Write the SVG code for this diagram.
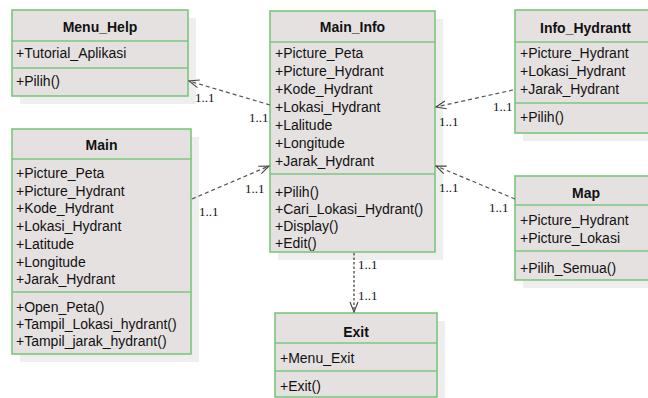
<svg xmlns="http://www.w3.org/2000/svg" width="648" height="398" viewBox="0 0 648 398">
<defs>
<marker id="open" markerWidth="12" markerHeight="10" refX="11" refY="5" orient="auto" markerUnits="userSpaceOnUse">
<path d="M1,1 L11,5 L1,9" fill="none" stroke="#444" stroke-width="1.1"/>
</marker>
</defs>
<style>
.shadow{fill:#eeeeee}
.box{fill:#e6e1e1;stroke:#7cc67c;stroke-width:1.6}
.div{stroke:#7cc67c;stroke-width:1.6}
.title{font-family:"Liberation Sans",Arial,sans-serif;font-size:14px;font-weight:bold;fill:#111;text-anchor:middle}
.t{font-family:"Liberation Sans",Arial,sans-serif;font-size:14px;fill:#111}
.lbl{font-family:"Liberation Serif","Times New Roman",serif;font-size:13px;fill:#111}
.conn{fill:none;stroke:#555;stroke-width:1.2;stroke-dasharray:4,3}
.dot{fill:none;stroke:#555;stroke-width:1.4;stroke-dasharray:2.5,2}
</style>
<rect width="648" height="398" fill="#ffffff"/>

<g id="Menu_Help">
<rect class="shadow" x="20" y="18" width="176" height="86"/>
<rect class="box" x="12" y="10" width="176" height="86"/>
<line class="div" x1="12" y1="41" x2="188" y2="41"/>
<line class="div" x1="12" y1="68" x2="188" y2="68"/>
<text class="title" x="100" y="32">Menu_Help</text>
<text class="t" x="16" y="58">+Tutorial_Aplikasi</text>
<text class="t" x="16" y="86">+Pilih()</text>
</g>

<g id="Main">
<rect class="shadow" x="20" y="137" width="179" height="225"/>
<rect class="box" x="12" y="129" width="179" height="225"/>
<line class="div" x1="12" y1="159" x2="191" y2="159"/>
<line class="div" x1="12" y1="292" x2="191" y2="292"/>
<text class="title" x="101.5" y="150">Main</text>
<text class="t" x="16" y="178">+Picture_Peta</text>
<text class="t" x="16" y="196">+Picture_Hydrant</text>
<text class="t" x="16" y="213">+Kode_Hydrant</text>
<text class="t" x="16" y="231">+Lokasi_Hydrant</text>
<text class="t" x="16" y="249">+Latitude</text>
<text class="t" x="16" y="267">+Longitude</text>
<text class="t" x="16" y="284">+Jarak_Hydrant</text>
<text class="t" x="16" y="312">+Open_Peta()</text>
<text class="t" x="16" y="329">+Tampil_Lokasi_hydrant()</text>
<text class="t" x="16" y="346">+Tampil_jarak_hydrant()</text>
</g>

<g id="Main_Info">
<rect class="shadow" x="278" y="19" width="165" height="241"/>
<rect class="box" x="270" y="11" width="165" height="241"/>
<line class="div" x1="270" y1="42" x2="435" y2="42"/>
<line class="div" x1="270" y1="174" x2="435" y2="174"/>
<text class="title" x="352.5" y="32">Main_Info</text>
<text class="t" x="275" y="58">+Picture_Peta</text>
<text class="t" x="275" y="76">+Picture_Hydrant</text>
<text class="t" x="275" y="94">+Kode_Hydrant</text>
<text class="t" x="275" y="112">+Lokasi_Hydrant</text>
<text class="t" x="275" y="130">+Lalitude</text>
<text class="t" x="275" y="148">+Longitude</text>
<text class="t" x="275" y="166">+Jarak_Hydrant</text>
<text class="t" x="275" y="197">+Pilih()</text>
<text class="t" x="275" y="214">+Cari_Lokasi_Hydrant()</text>
<text class="t" x="275" y="231">+Display()</text>
<text class="t" x="275" y="248">+Edit()</text>
</g>

<g id="Info_Hydrantt">
<rect class="shadow" x="523" y="18" width="141" height="123"/>
<rect class="box" x="515" y="10" width="141" height="123"/>
<line class="div" x1="515" y1="42" x2="656" y2="42"/>
<line class="div" x1="515" y1="103" x2="656" y2="103"/>
<text class="title" x="585.5" y="33">Info_Hydrantt</text>
<text class="t" x="520" y="58">+Picture_Hydrant</text>
<text class="t" x="520" y="76">+Lokasi_Hydrant</text>
<text class="t" x="520" y="94">+Jarak_Hydrant</text>
<text class="t" x="520" y="122">+Pilih()</text>
</g>

<g id="Map">
<rect class="shadow" x="523" y="184" width="141" height="104"/>
<rect class="box" x="515" y="176" width="141" height="104"/>
<line class="div" x1="515" y1="205" x2="656" y2="205"/>
<line class="div" x1="515" y1="251" x2="656" y2="251"/>
<text class="title" x="586" y="198">Map</text>
<text class="t" x="520" y="225">+Picture_Hydrant</text>
<text class="t" x="520" y="243">+Picture_Lokasi</text>
<text class="t" x="520" y="273">+Pilih_Semua()</text>
</g>

<g id="Exit">
<rect class="shadow" x="283" y="321" width="162" height="84"/>
<rect class="box" x="275" y="313" width="162" height="84"/>
<line class="div" x1="275" y1="343" x2="437" y2="343"/>
<line class="div" x1="275" y1="371" x2="437" y2="371"/>
<text class="title" x="356" y="337">Exit</text>
<text class="t" x="280" y="363">+Menu_Exit</text>
<text class="t" x="280" y="391">+Exit()</text>
</g>

<g id="connectors">
<path class="conn" d="M270,105 L189,81" marker-end="url(#open)"/>
<path class="conn" d="M192,199 L269,166" marker-end="url(#open)"/>
<path class="conn" d="M513,90 L436,107" marker-end="url(#open)"/>
<path class="conn" d="M515,199 L436,166" marker-end="url(#open)"/>
<path class="dot" d="M354,253 L354,312" marker-end="url(#open)"/>
<text class="lbl" x="195" y="102">1..1</text>
<text class="lbl" x="249" y="122">1..1</text>
<text class="lbl" x="245" y="193">1..1</text>
<text class="lbl" x="199" y="216">1..1</text>
<text class="lbl" x="493" y="111">1..1</text>
<text class="lbl" x="439" y="126">1..1</text>
<text class="lbl" x="439" y="192">1..1</text>
<text class="lbl" x="489" y="212">1..1</text>
<text class="lbl" x="358" y="269">1..1</text>
<text class="lbl" x="358" y="300">1..1</text>
</g>
</svg>
